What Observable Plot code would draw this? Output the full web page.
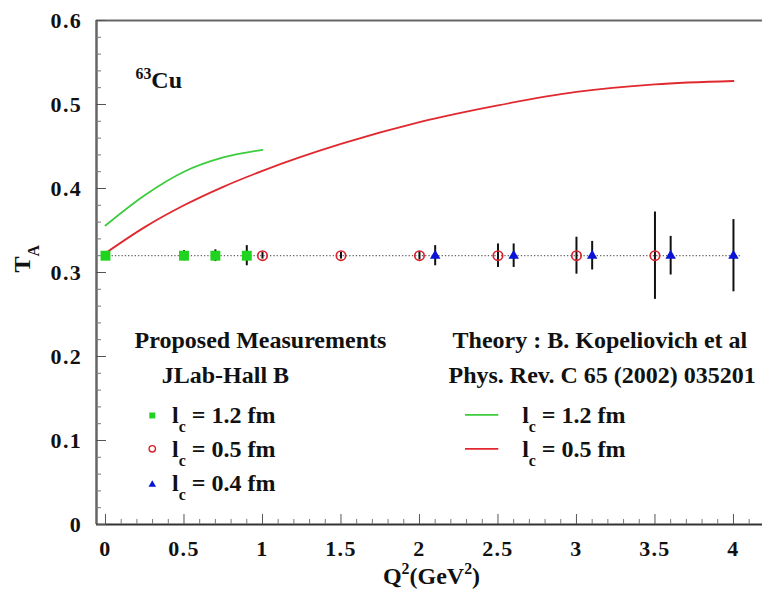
<!DOCTYPE html>
<html>
<head>
<meta charset="utf-8">
<script src="https://cdn.jsdelivr.net/npm/d3@7"></script>
<script src="https://cdn.jsdelivr.net/npm/@observablehq/plot@0.6"></script>
<style>
  body { margin: 0; background: #fff; }
  #chart svg { display: block; }
</style>
</head>
<body>
<div id="chart"></div>
<script>
// Proposed measurements: Q² (GeV²), transparency T_A and its uncertainty
const q2Green = [0, 0.5, 0.7, 0.9];
const taGreen = [0.32, 0.32, 0.32, 0.32];
const errGreen = [0, 0.006, 0.007, 0.012];

const q2Red = [1.0, 1.5, 2.0, 2.5, 3.0, 3.5];
const taRed = [0.32, 0.32, 0.32, 0.32, 0.32, 0.32];
const errRed = [0.004, 0.004, 0.005, 0.014, 0.022, 0.052];

const q2Blue = [2.1, 2.6, 3.1, 3.6, 4.0];
const taBlue = [0.32, 0.32, 0.32, 0.32, 0.32];
const errBlue = [0.012, 0.014, 0.017, 0.023, 0.043];

// Theory curves (Kopeliovich et al.)
const theoryGreenQ2 = [0, 0.25, 0.5, 0.75, 1.0];
const theoryGreenTA = [0.356, 0.392, 0.420, 0.437, 0.446];
const theoryRedQ2 = [0, 0.25, 0.5, 0.75, 1.0, 1.5, 2.0, 2.5, 3.0, 3.5, 4.0];
const theoryRedTA = [0.323, 0.354, 0.380, 0.402, 0.421, 0.453, 0.479, 0.499, 0.515, 0.524, 0.528];

// Axis ticks
const xMajor = [0, 0.5, 1, 1.5, 2, 2.5, 3, 3.5, 4];
const xMinor = [0.1, 0.2, 0.3, 0.4, 0.6, 0.7, 0.8, 0.9, 1.1, 1.2, 1.3, 1.4, 1.6, 1.7, 1.8, 1.9,
                2.1, 2.2, 2.3, 2.4, 2.6, 2.7, 2.8, 2.9, 3.1, 3.2, 3.3, 3.4, 3.6, 3.7, 3.8, 3.9, 4.1];
const yMajor = [0, 0.1, 0.2, 0.3, 0.4, 0.5, 0.6];
const yMinor = [0.02, 0.04, 0.06, 0.08, 0.12, 0.14, 0.16, 0.18, 0.22, 0.24, 0.26, 0.28,
                0.32, 0.34, 0.36, 0.38, 0.42, 0.44, 0.46, 0.48, 0.52, 0.54, 0.56, 0.58];

const pts = (q, t, e) => q.map((x, i) => ({x, y: t[i], e: e[i]}));
const green = pts(q2Green, taGreen, errGreen);
const red = pts(q2Red, taRed, errRed);
const blue = pts(q2Blue, taBlue, errBlue);
const curveGreen = theoryGreenQ2.map((x, i) => ({x, y: theoryGreenTA[i]}));
const curveRed = theoryRedQ2.map((x, i) => ({x, y: theoryRedTA[i]}));
const baseline = taGreen[0];

const cGreen = "#1fd41f", cRed = "#d9232e", cBlue = "#0a14d8";
const cLineGreen = "#3ccc3c", cLineRed = "#e0282e";

// Legend entries (labels use _{..} / ^{..} for sub- and superscripts)
const legendMeas = [
  {label: "l_{c} = 1.2 fm", symbol: "square", color: cGreen, fill: cGreen, r: 4},
  {label: "l_{c} = 0.5 fm", symbol: "circle", color: cRed, fill: "none", r: 3.6},
  {label: "l_{c} = 0.4 fm", symbol: "triangle", color: cBlue, fill: cBlue, r: 2.8}
];
const legendTheory = [
  {label: "l_{c} = 1.2 fm", color: cLineGreen},
  {label: "l_{c} = 0.5 fm", color: cLineRed}
];
// annotation anchors in data units
const measX = 0.298, measTextX = 0.424;
const measMarkY = [0.1298, 0.0901, 0.0476], measTextY = [0.1294, 0.0893, 0.0490];
const theoX1 = 2.293, theoX2 = 2.505, theoTextX = 2.654;
const theoLineY = [0.1306, 0.0901], theoTextY = [0.1294, 0.0893];

const font = "'Liberation Serif', 'Times New Roman', Times, serif";

const chart = Plot.plot({
  width: 762,
  height: 601,
  marginLeft: 96,
  marginRight: 0,
  marginTop: 20,
  marginBottom: 77,
  style: {fontFamily: font, fontWeight: "bold", fontSize: "24px", color: "#111", background: "#fff"},
  x: {domain: [-0.0573, 4.185], axis: null},
  y: {domain: [0, 0.6], axis: null},
  marks: [
    // frame: top and left in grey, bottom axis line dark
    Plot.ruleY([0.6], {stroke: "#666", strokeWidth: 2}),
    Plot.ruleX([-0.0573], {stroke: "#666", strokeWidth: 2.5}),
    Plot.ruleY([0], {stroke: "#333", strokeWidth: 2}),

    // inward ticks
    Plot.axisX(xMajor, {anchor: "bottom", tickSize: 10, dy: -10, fill: "none", stroke: "#555", label: null}),
    Plot.axisX(xMinor, {anchor: "bottom", tickSize: 5, dy: -5, fill: "none", stroke: "#777", label: null}),
    Plot.axisY(yMajor, {anchor: "left", tickSize: 10, dx: 10, fill: "none", stroke: "#555", label: null}),
    Plot.axisY(yMinor, {anchor: "left", tickSize: 5, dx: 5, fill: "none", stroke: "#777", label: null}),

    // tick labels
    Plot.axisX(xMajor, {anchor: "bottom", tickSize: 0, tickPadding: 16, tickFormat: d => String(d), fontSize: 22, fill: "#111", label: null}),
    Plot.axisY(yMajor, {anchor: "left", tickSize: 0, tickPadding: 14.5, tickFormat: d => String(d), fontSize: 22, fill: "#111", label: null}),

    // reference level of the projected measurements
    Plot.ruleY([baseline], {x1: q2Green[0], x2: q2Blue[q2Blue.length - 1] + 0.05, stroke: "#666", strokeWidth: 1.3, strokeDasharray: "1.3,2"}),

    // theory curves
    Plot.line(curveRed, {x: "x", y: "y", stroke: cLineRed, strokeWidth: 1.8, curve: "monotone-x"}),
    Plot.line(curveGreen, {x: "x", y: "y", stroke: cLineGreen, strokeWidth: 1.8, curve: "monotone-x"}),

    // error bars
    Plot.ruleX([...green, ...red, ...blue].filter(d => d.e > 0), {x: "x", y1: d => d.y - d.e, y2: d => d.y + d.e, stroke: "#111", strokeWidth: 2}),

    // projected points
    Plot.dot(green, {x: "x", y: "y", symbol: "square", r: 5.6, fill: cGreen}),
    Plot.dot(red, {x: "x", y: "y", symbol: "circle", r: 4.7, stroke: cRed, strokeWidth: 1.7, fill: "none"}),
    Plot.dot(blue, {x: "x", y: "y", symbol: "triangle", r: 3.9, fill: cBlue}),

    // nucleus label
    Plot.text(["^{63}Cu"], {x: 0.191, y: 0.5282, textAnchor: "start", fontSize: 24}),

    // measurement legend
    Plot.text(["Proposed Measurements"], {x: 0.987, y: 0.2187, fontSize: 24}),
    Plot.text(["JLab-Hall B"], {x: 0.764, y: 0.178, fontSize: 24}),
    Plot.dot(legendMeas, {x: measX, y: (d, i) => measMarkY[i], symbol: "symbol", r: "r", fill: "fill", stroke: d => d.fill === "none" ? d.color : "none", strokeWidth: 1.4}),
    Plot.text(legendMeas, {x: measTextX, y: (d, i) => measTextY[i], text: "label", textAnchor: "start", fontSize: 24}),

    // theory legend
    Plot.text(["Theory : B. Kopeliovich et al"], {x: 2.211, y: 0.2187, textAnchor: "start", fontSize: 24}),
    Plot.text(["Phys. Rev. C 65 (2002) 035201"], {x: 2.185, y: 0.178, textAnchor: "start", fontSize: 24}),
    Plot.ruleY(legendTheory, {y: (d, i) => theoLineY[i], x1: theoX1, x2: theoX2, stroke: "color", strokeWidth: 1.8}),
    Plot.text(legendTheory, {x: theoTextX, y: (d, i) => theoTextY[i], text: "label", textAnchor: "start", fontSize: 24}),

    // axis titles
    Plot.text(["T_{A}"], {frameAnchor: "left", dx: -74, dy: 0, rotate: -90, fontSize: 24}),
    Plot.text(["Q^{2}(GeV^{2})"], {frameAnchor: "bottom", dx: 2, dy: 59, fontSize: 24})
  ]
});

// turn _{..} and ^{..} into sub- and superscript tspans
d3.select(chart).selectAll("text").each(function () {
  const s = this.textContent;
  if (!/[_^]\{/.test(s)) return;
  const size = parseFloat(this.getAttribute("font-size")) || 24;
  const parts = s.split(/([_^]\{[^}]*\})/).filter(p => p.length);
  this.textContent = "";
  let shift = 0;
  for (const p of parts) {
    const m = p.match(/^([_^])\{([^}]*)\}$/);
    const t = d3.select(this).append("tspan");
    if (m) {
      const target = m[1] === "_" ? size * 0.36 : -size * 0.4;
      t.attr("dy", target - shift).attr("font-size", size * 0.66).text(m[2]);
      shift = target;
    } else {
      if (shift) t.attr("dy", -shift);
      shift = 0;
      t.text(p);
    }
  }
});

// slightly wider spacing for the numeric tick labels
d3.select(chart).selectAll('g[aria-label$="tick label"]').attr("letter-spacing", "1.3px");

document.getElementById("chart").append(chart);
</script>
</body>
</html>
